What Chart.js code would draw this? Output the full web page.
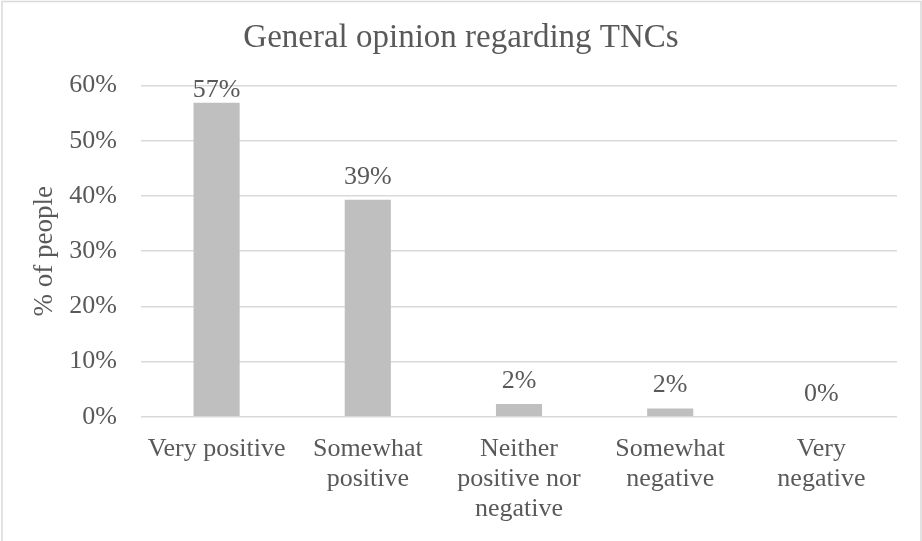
<!DOCTYPE html>
<html>
<head>
<meta charset="utf-8">
<script src="https://cdn.jsdelivr.net/npm/chart.js@4/dist/chart.umd.min.js"></script>
<style>
  html, body { margin: 0; padding: 0; background: #ffffff; }
  #wrap { width: 922px; height: 541px; position: relative; }
</style>
</head>
<body>
<div id="wrap"><canvas id="c" width="922" height="541"></canvas></div>
<script>
const chartTitle = "General opinion regarding TNCs";
const yAxisTitle = "% of people";
const categories = [
  ["Very positive"],
  ["Somewhat", "positive"],
  ["Neither", "positive nor", "negative"],
  ["Somewhat", "negative"],
  ["Very", "negative"]
];
const values = [56.9, 39.3, 2.3, 1.5, 0];
const yMin = 0;
const yMax = 60;
const yStep = 10;

const FONT = "'Liberation Serif', 'Times New Roman', serif";
const TEXT = "#595959";
const GRID = "#d9d9d9";
const BAR = "#bfbfbf";

const framePlugin = {
  id: "frame",
  beforeDraw(chart) {
    const ctx = chart.ctx;
    ctx.save();
    ctx.fillStyle = "#ffffff";
    ctx.fillRect(0, 0, chart.width, chart.height);
    ctx.strokeStyle = GRID;
    ctx.lineWidth = 1.5;
    ctx.strokeRect(2, 1.5, 919, 600);
    ctx.restore();
  }
};

const labelPlugin = {
  id: "barLabels",
  afterDatasetsDraw(chart) {
    const ctx = chart.ctx;
    const meta = chart.getDatasetMeta(0);
    const area = chart.chartArea;
    ctx.save();
    ctx.font = "26px " + FONT;
    ctx.fillStyle = TEXT;
    ctx.textAlign = "center";
    ctx.textBaseline = "alphabetic";
    meta.data.forEach((bar, i) => {
      const y = Math.max(bar.y - 16, area.top + 11);
      ctx.fillText(Math.round(values[i]) + "%", bar.x, y);
    });
    ctx.restore();
  }
};

new Chart(document.getElementById("c"), {
  type: "bar",
  data: {
    labels: categories,
    datasets: [{
      data: values,
      backgroundColor: BAR,
      borderWidth: 0,
      barPercentage: 1,
      categoryPercentage: 0.305
    }]
  },
  options: {
    responsive: false,
    animation: false,
    devicePixelRatio: 1,
    layout: { padding: { left: 0, right: 0, top: 0, bottom: 0 } },
    plugins: {
      legend: { display: false },
      tooltip: { enabled: false },
      title: {
        display: true,
        text: chartTitle,
        color: TEXT,
        font: { family: FONT, size: 33, weight: "normal" },
        padding: { top: 19, bottom: 27 }
      }
    },
    scales: {
      x: {
        grid: { display: false, drawTicks: false },
        border: { display: false },
        ticks: {
          color: TEXT,
          font: { family: FONT, size: 26, lineHeight: 1.15 },
          padding: 18,
          autoSkip: false,
          maxRotation: 0,
          minRotation: 0
        },
        afterFit(s) { s.height = 124.3; }
      },
      y: {
        min: yMin,
        max: yMax,
        grid: { color: GRID, lineWidth: 1.5, drawTicks: false },
        border: { display: false },
        ticks: {
          stepSize: yStep,
          color: TEXT,
          font: { family: FONT, size: 26 },
          padding: 24,
          callback: v => v + "%"
        },
        title: {
          display: true,
          text: yAxisTitle,
          color: TEXT,
          font: { family: FONT, size: 27, weight: "normal" },
          padding: { top: 29, bottom: 0 }
        },
        afterFit(s) { s.width = 141; }
      },
      pad: {
        type: "linear",
        position: "right",
        display: true,
        grid: { display: false, drawTicks: false },
        border: { display: false },
        ticks: { display: false },
        afterFit(s) { s.width = 25; }
      }
    }
  },
  plugins: [framePlugin, labelPlugin]
});
</script>
</body>
</html>
